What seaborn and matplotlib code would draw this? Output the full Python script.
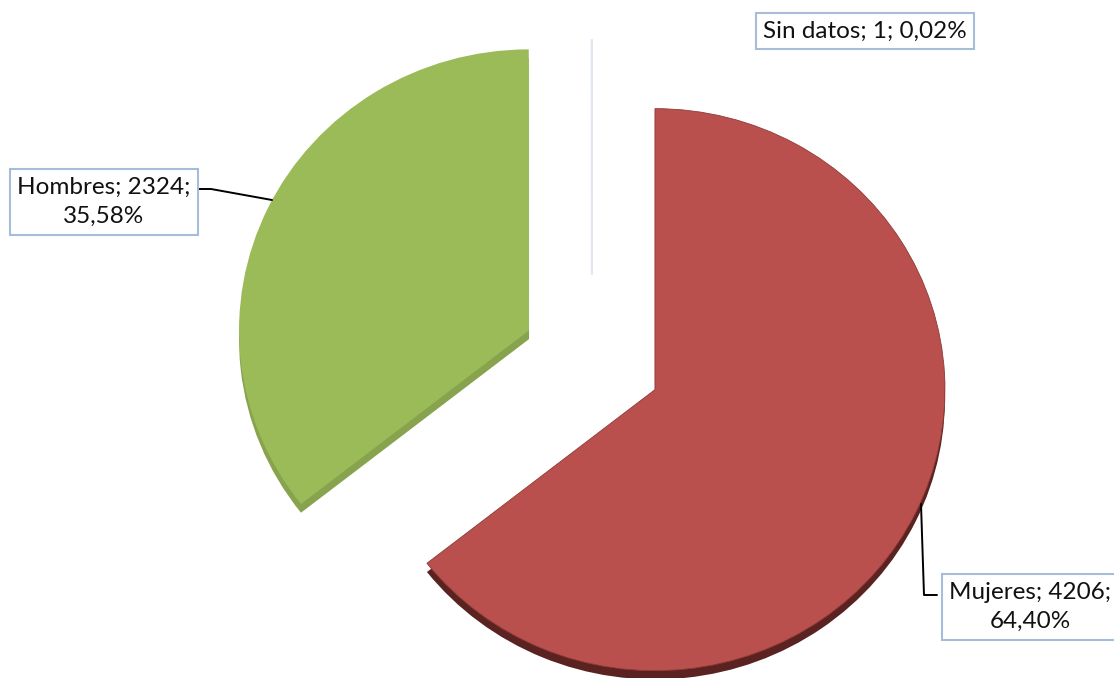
import numpy as np
import seaborn as sns
import matplotlib.pyplot as plt

# Data
categories = ['Mujeres', 'Hombres', 'Sin datos']
counts = [4206, 2324, 1]
colors = ['#B9504D', '#9BBB59', '#D5DFEC']
side_colors = ['#5A2220', '#87A34D', 'none']

pct = np.array(counts) / sum(counts) * 100
pct_txt = [f"{p:.2f}%".replace('.', ',') for p in pct]

sns.set_theme(style="white")
plt.rcParams['font.family'] = ['Lato', 'DejaVu Sans']

W, H = 1114, 678
SY = 0.969  # slight vertical squash (tilted pie)
fig = plt.figure(figsize=(W / 100, H / 100), dpi=100)
ax = fig.add_axes([0, 0, 1, 1])


def px(x, y):
    # picture pixel -> data coords (y up, squashed)
    return x, (H - y) / SY


cx, cy = px(592, 360)
radius = 290
# pie explode is in data units here (radius is in pixels)
explode = [70, 70, 88]

# thickness of the slices (drawn a few pixels lower, darker)
ax.pie(counts, colors=side_colors, startangle=90, counterclock=False,
       explode=explode, radius=radius, center=(cx, cy - 9),
       wedgeprops=dict(linewidth=0, zorder=1), frame=True)

wedges, _ = ax.pie(counts, colors=colors, startangle=90, counterclock=False,
                   explode=explode, radius=radius, center=(cx, cy),
                   wedgeprops=dict(linewidth=0, zorder=2), frame=True)
wedges[2].set_radius(242)
wedges[2].set_edgecolor('#E0E7F0')
wedges[2].set_linewidth(1.5)
wedges[0].set_edgecolor('#8E3A37')
wedges[0].set_linewidth(0.6)

ax.set_xlim(0, W)
ax.set_ylim(0, H / SY)
ax.set_aspect('auto')
ax.axis('off')

box = dict(boxstyle='square,pad=0.3', facecolor='white', edgecolor='#A7BCD8', linewidth=1.5)
txt = dict(fontsize=17.5, color='#111111', ha='center', va='center', zorder=5, bbox=box)

# Mujeres
ax.text(*px(1030, 607), f"{categories[0]}; {counts[0]};\n{pct_txt[0]}", linespacing=1.5, **txt)
xs, ys = zip(px(921, 504), px(924, 595), px(937, 595))
ax.plot(xs, ys, color='black', lw=1.4, zorder=4)

# Hombres
ax.text(*px(104, 202), f"{categories[1]}; {counts[1]};\n{pct_txt[1]}", linespacing=1.5, **txt)
xs, ys = zip(px(199, 189), px(211, 189), px(272, 200))
ax.plot(xs, ys, color='black', lw=1.4, zorder=4)

# Sin datos
ax.text(*px(865, 31), f"{categories[2]}; {counts[2]}; {pct_txt[2]}", **txt)

fig.savefig('out.png', dpi=100)
